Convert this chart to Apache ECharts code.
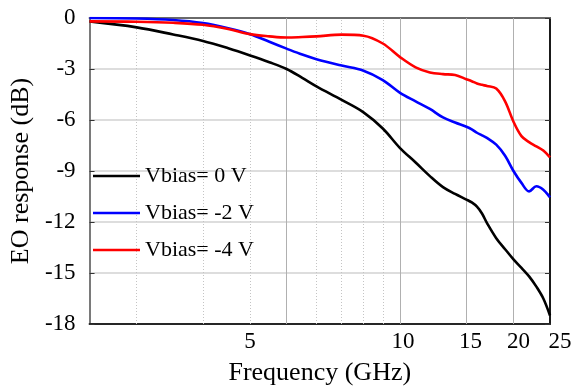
<!DOCTYPE html>
<html><head><meta charset="utf-8">
<script src="https://cdn.jsdelivr.net/npm/echarts@6/dist/echarts.min.js"></script>
<style>html,body{margin:0;padding:0;background:#fff}#c{width:572px;height:391px}</style>
</head><body><div id="c"></div>
<script>
// ---- data ----
const freqGHz = [1.5, 2, 2.5, 3, 3.5, 4, 4.5, 5, 5.5, 6, 7, 8, 9, 10, 11, 12, 13, 14, 15, 15.5, 16, 16.5, 17, 18, 19, 20, 21, 22, 23, 24, 25];
const vbias0  = [-0.2, -0.55, -0.97, -1.35, -1.78, -2.2, -2.6, -3.0, -3.52, -4.02, -4.82, -5.55, -6.5, -7.65, -8.5, -9.3, -9.95, -10.35, -10.68, -10.85, -11.1, -11.5, -12.05, -12.95, -13.6, -14.2, -14.7, -15.2, -15.8, -16.5, -17.5];
const vbiasM2 = [0, -0.03, -0.12, -0.3, -0.6, -0.95, -1.4, -1.8, -2.15, -2.42, -2.8, -3.1, -3.65, -4.4, -4.9, -5.35, -5.85, -6.15, -6.4, -6.55, -6.75, -6.9, -7.05, -7.45, -8.1, -9.0, -9.7, -10.2, -9.9, -10.1, -10.55];
const vbiasM4 = [-0.2, -0.22, -0.28, -0.4, -0.65, -0.95, -1.08, -1.15, -1.12, -1.08, -0.98, -1.04, -1.5, -2.3, -2.9, -3.2, -3.3, -3.35, -3.6, -3.72, -3.85, -3.93, -4.0, -4.15, -4.9, -6.1, -6.95, -7.3, -7.55, -7.8, -8.2];
const seriesNames = ['Vbias= 0 V', 'Vbias= -2 V', 'Vbias= -4 V'];
const xTickLabels = ['5', '10', '15', '20', '25'];
const xTickLabelAt = [4, 10, 15, 20, 25];
const xMinorGrid = [2, 3, 4, 6, 7, 8, 9];
const xMajorGrid = [5, 10, 15, 20];
const xMin = 1.5, xMax = 25;
const yMin = -18, yMax = 0, yStep = 3;

// ---- style ----
const FONT = 'Liberation Serif';
const colors = ['#000000', '#0000ff', '#ff0000'];
const labelShiftPx = [0, 3, 4, 5, 10];

const chart = echarts.init(document.getElementById('c'), null, {renderer: 'canvas'});
const seriesData = [vbias0, vbiasM2, vbiasM4];

const markData = [];
xMinorGrid.forEach(v => markData.push({xAxis: v, lineStyle: {type: [1, 2], color: '#c4c4c4', width: 1}, label: {show: false}}));
xMajorGrid.forEach(v => markData.push({xAxis: v, lineStyle: {type: 'solid', color: '#b0b0b0', width: 1}, label: {show: false}}));
xTickLabels.forEach((t, i) => markData.push({
  xAxis: Math.min(xTickLabelAt[i], xMax * 0.9999),
  lineStyle: {color: 'rgba(255,255,255,0)', width: 0.1},
  label: {show: true, position: 'start', formatter: t, distance: 6,
          padding: [0, 0, 0, 2 * labelShiftPx[i]],
          fontFamily: FONT, fontSize: 23, color: '#000'}
}));

const series = seriesNames.map((name, k) => ({
  name, type: 'line', xAxisIndex: 0, yAxisIndex: 0,
  data: freqGHz.map((f, i) => [f, seriesData[k][i]]),
  smooth: 0.35, symbol: 'none', showSymbol: false, z: 10,
  lineStyle: {width: 2.6, color: colors[k]}, itemStyle: {color: colors[k]},
  animation: false
}));
series.push({
  type: 'line', data: [], xAxisIndex: 0, yAxisIndex: 0, z: 1, silent: true, animation: false,
  markLine: {silent: true, symbol: 'none', z: 1, animation: false, data: markData}
});

chart.setOption({
  animation: false,
  grid: {left: 81, right: 22, top: 18, bottom: 67, containLabel: false},
  legend: {
    data: seriesNames, orient: 'vertical', left: 88, top: 160, padding: 5,
    icon: 'rect', itemWidth: 47, itemHeight: 2.6, itemGap: 15,
    textStyle: {fontFamily: FONT, fontSize: 22, color: '#000', lineHeight: 22}
  },
  xAxis: [
    {type: 'log', logBase: 10, min: xMin, max: xMax, position: 'bottom',
     name: 'Frequency (GHz)', nameLocation: 'middle', nameGap: 36,
     nameTextStyle: {fontFamily: FONT, fontSize: 26, color: '#000'},
     axisLine: {show: true, onZero: false, lineStyle: {color: '#262626', width: 2}},
     axisTick: {show: false}, axisLabel: {show: false}, splitLine: {show: false}, minorTick: {show: false}},
    {type: 'log', logBase: 10, min: xMin, max: xMax, position: 'top',
     axisLine: {show: true, onZero: false, lineStyle: {color: '#6a6a6a', width: 2}},
     axisTick: {show: false}, axisLabel: {show: false}, splitLine: {show: false}}
  ],
  yAxis: [
    {type: 'value', min: yMin, max: yMax, interval: yStep, position: 'left',
     name: 'EO response (dB)', nameLocation: 'middle', nameGap: 46,
     nameTextStyle: {fontFamily: FONT, fontSize: 26, color: '#000'},
     axisLine: {show: true, onZero: false, lineStyle: {color: '#7a7a7a', width: 2}},
     axisTick: {show: true, inside: true, length: 5, lineStyle: {color: '#333'}},
     axisLabel: {fontFamily: FONT, fontSize: 23, color: '#000', margin: 14},
     splitLine: {show: true, lineStyle: {color: '#d2d2d2', width: 1.6}}},
    {type: 'value', min: yMin, max: yMax, interval: yStep, position: 'right',
     axisLine: {show: true, onZero: false, lineStyle: {color: '#1a1a1a', width: 2}},
     axisTick: {show: true, inside: true, length: 5, lineStyle: {color: '#333'}},
     axisLabel: {show: false}, splitLine: {show: false}}
  ],
  series
});
</script></body></html>
